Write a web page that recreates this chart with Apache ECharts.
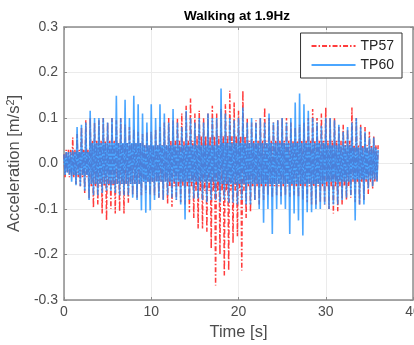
<!DOCTYPE html>
<html><head><meta charset="utf-8">
<script src="https://cdn.jsdelivr.net/npm/echarts@6/dist/echarts.min.js"></script>
<style>html,body{margin:0;padding:0;background:#fff}#c{width:414px;height:345px}</style>
</head><body><div id="c"></div>
<script>
// Envelope of the measured signals, read per 0.5 s bin (t = 0 ... 36 s)
const binStart = 0;
const binStep = 0.5;
const hi57 = [0.02,0.03,0.057,0.065,0.08,0.095,0.10,0.09,0.095,0.10,0.09,0.10,0.095,0.10,0.086,0.08,0.075,0.07,0.065,0.07,
  0.07,0.075,0.08,0.09,0.10,0.095,0.10,0.11,0.127,0.143,0.11,0.116,0.10,0.11,0.127,0.11,0.12,0.13,0.16,0.134,
  0.116,0.16,0.10,0.09,0.095,0.10,0.123,0.10,0.09,0.095,0.10,0.10,0.09,0.08,0.085,0.09,0.10,0.12,0.10,0.11,
  0.123,0.10,0.10,0.08,0.085,0.075,0.123,0.10,0.085,0.08,0.07,0.06,0.04];
const lo57 = [-0.02,-0.03,-0.045,-0.05,-0.065,-0.077,-0.097,-0.09,-0.11,-0.125,-0.10,-0.11,-0.105,-0.11,-0.086,-0.07,-0.075,-0.07,-0.065,-0.07,
  -0.07,-0.075,-0.08,-0.088,-0.095,-0.08,-0.085,-0.09,-0.107,-0.12,-0.143,-0.143,-0.15,-0.187,-0.268,-0.20,-0.246,-0.235,-0.175,-0.16,
  -0.235,-0.12,-0.107,-0.08,-0.09,-0.08,-0.07,-0.075,-0.07,-0.072,-0.07,-0.073,-0.07,-0.074,-0.08,-0.085,-0.09,-0.09,-0.085,-0.09,
  -0.10,-0.11,-0.105,-0.09,-0.08,-0.075,-0.085,-0.09,-0.08,-0.067,-0.055,-0.04,-0.03];
const hi60 = [0.02,0.025,0.03,0.08,0.085,0.09,0.116,0.10,0.10,0.10,0.09,0.10,0.149,0.10,0.14,0.10,0.149,0.13,0.11,0.09,
  0.13,0.10,0.13,0.11,0.09,0.12,0.09,0.08,0.116,0.10,0.09,0.10,0.09,0.11,0.10,0.10,0.165,0.11,0.10,0.095,
  0.10,0.123,0.09,0.10,0.09,0.10,0.09,0.11,0.09,0.095,0.10,0.09,0.10,0.134,0.154,0.13,0.116,0.10,0.09,0.083,
  0.10,0.10,0.095,0.085,0.07,0.08,0.09,0.10,0.08,0.07,0.057,0.057,0.03];
const lo60 = [-0.02,-0.04,-0.048,-0.05,-0.06,-0.08,-0.07,-0.07,-0.065,-0.06,-0.06,-0.065,-0.07,-0.07,-0.07,-0.075,-0.08,-0.103,-0.108,-0.103,
  -0.08,-0.075,-0.08,-0.07,-0.075,-0.08,-0.09,-0.123,-0.08,-0.077,-0.077,-0.08,-0.085,-0.08,-0.08,-0.085,-0.08,-0.086,-0.086,-0.09,
  -0.08,-0.09,-0.09,-0.08,-0.10,-0.13,-0.10,-0.155,-0.10,-0.09,-0.10,-0.155,-0.11,-0.125,-0.158,-0.107,-0.107,-0.10,-0.10,-0.09,
  -0.10,-0.09,-0.09,-0.08,-0.075,-0.07,-0.125,-0.09,-0.09,-0.055,-0.05,-0.04,-0.03];
// Half-width of the densely filled core band, read per 3 s block (t = 0,3,...,36)
const coreStep = 3;
const core57 = [0.03,0.05,0.045,0.04,0.05,0.06,0.06,0.05,0.05,0.05,0.05,0.04,0.03];
const core60 = [0.025,0.045,0.045,0.04,0.04,0.04,0.045,0.045,0.045,0.045,0.04,0.035,0.02];
const xTicks = {min: 0, max: 40, interval: 10};
const yTicks = {min: -0.3, max: 0.3, interval: 0.1};
const seriesNames = ['TP57', 'TP60'];

function trace(hi, lo, core) {
  const d = [];
  for (let i = 0; i < hi.length; i++) {
    const t = binStart + i * binStep;
    const c = core[Math.floor(t / coreStep)];
    d.push([t, hi[i]]);
    if (i === hi.length - 1) break;
    d.push([t + binStep * 0.25, -c]);
    d.push([t + binStep * 0.5, c]);
    d.push([t + binStep * 0.75, lo[i]]);
  }
  return d;
}

const axisCol = '#8c8c8c';
const labCol = '#4d4d4d';
const font = 'Liberation Sans, Arial, sans-serif';
function xAx(pos, main) {
  return {
    type: 'value', position: pos, min: xTicks.min, max: xTicks.max, interval: xTicks.interval,
    axisLine: {show: true, onZero: false, lineStyle: {color: axisCol, width: 1.5}},
    axisTick: {show: true, inside: true, length: 3, lineStyle: {color: axisCol}},
    axisLabel: {show: main, color: labCol, fontSize: 14, margin: 5, fontFamily: font},
    splitLine: {show: main, lineStyle: {color: '#ebebeb', width: 1}},
    name: main ? 'Time [s]' : '', nameLocation: 'middle', nameGap: 21,
    nameTextStyle: {fontSize: 16.5, color: labCol, fontFamily: font}
  };
}
function yAx(pos, main) {
  return {
    type: 'value', position: pos, min: yTicks.min, max: yTicks.max, interval: yTicks.interval,
    axisLine: {show: true, onZero: false, lineStyle: {color: axisCol, width: 1.5}},
    axisTick: {show: true, inside: true, length: 3, lineStyle: {color: axisCol}},
    axisLabel: {show: main, color: labCol, fontSize: 14, margin: 6, fontFamily: font,
      formatter: v => v.toFixed(1)},
    splitLine: {show: main, lineStyle: {color: '#ebebeb', width: 1}},
    name: main ? 'Acceleration [m/s{sup|2}]' : '', nameLocation: 'middle', nameGap: 30,
    nameTextStyle: {fontSize: 16.5, color: labCol, fontFamily: font,
      rich: {sup: {fontSize: 11, color: labCol, fontFamily: font, verticalAlign: 'top', padding: [0, 0, 7, 0]}}}
  };
}

const chart = echarts.init(document.getElementById('c'), null, {renderer: 'canvas'});
chart.setOption({
  animation: false,
  backgroundColor: '#fff',
  title: {text: 'Walking at 1.9Hz', left: 179, top: 4,
    textStyle: {fontSize: 13.5, fontWeight: 'bold', color: '#000', fontFamily: font}},
  grid: {left: 64, right: 1, top: 27, bottom: 45, containLabel: false, outerBoundsMode: 'none'},
  xAxis: [xAx('bottom', true), xAx('top', false)],
  yAxis: [yAx('left', true), yAx('right', false)],
  legend: {
    orient: 'vertical', right: 12, top: 33, itemWidth: 44, itemHeight: 10, itemGap: 5,
    padding: [6, 8, 6, 10], borderColor: '#333', borderWidth: 1, backgroundColor: '#fff',
    itemStyle: {opacity: 0},
    textStyle: {fontSize: 14, color: '#262626', fontFamily: font},
    data: seriesNames
  },
  series: [
    {name: seriesNames[0], type: 'line', data: trace(hi57, lo57, core57), symbol: 'none', showSymbol: false,
      xAxisIndex: 0, yAxisIndex: 0,
      lineStyle: {color: '#ff1a1a', width: 1.5, type: [5, 2, 1.5, 2], opacity: 0.85}, itemStyle: {color: '#ff1a1a'}},
    {name: seriesNames[1], type: 'line', data: trace(hi60, lo60, core60), symbol: 'none', showSymbol: false,
      xAxisIndex: 0, yAxisIndex: 0,
      lineStyle: {color: '#1e90ff', width: 1.6, opacity: 0.8}, itemStyle: {color: '#1e90ff'}}
  ]
});
</script></body></html>
